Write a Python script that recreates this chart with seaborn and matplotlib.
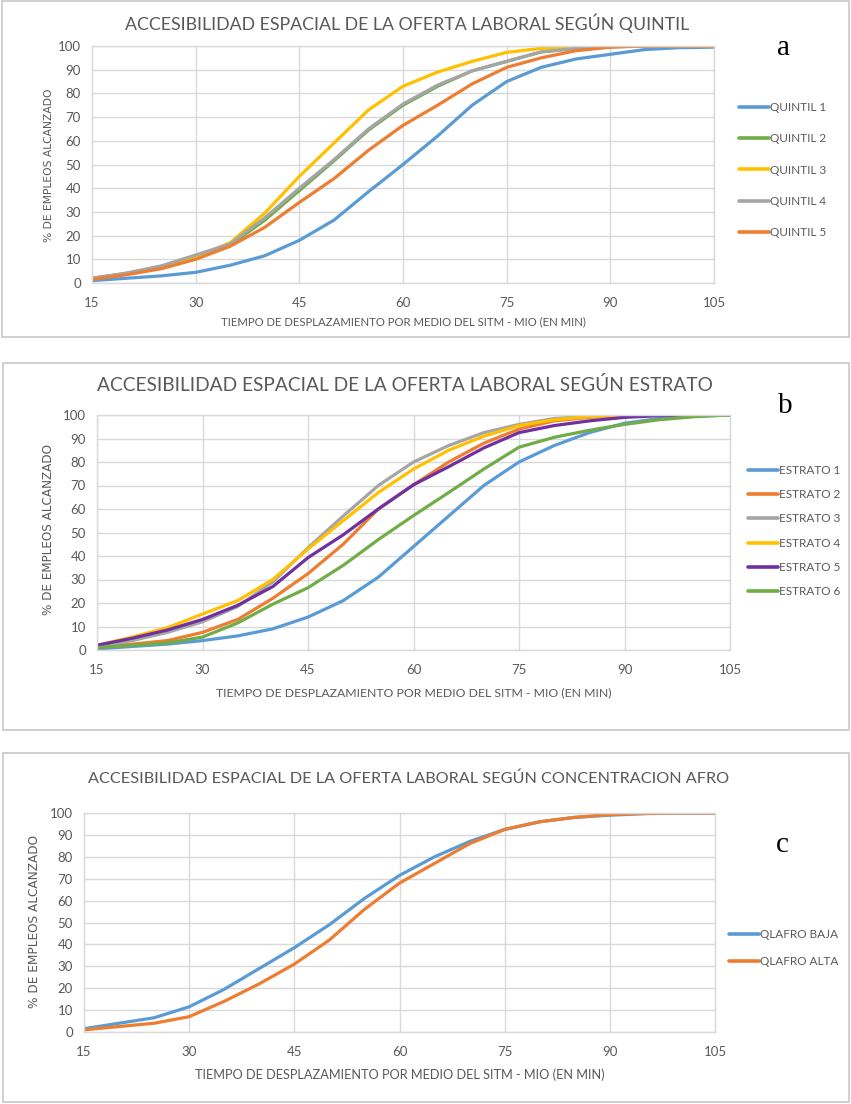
import numpy as np
import pandas as pd
import matplotlib
matplotlib.use("Agg")
import matplotlib.pyplot as plt
from matplotlib.patches import Rectangle
import seaborn as sns

# ---------------- data ----------------
minutes = [15, 20, 25, 30, 35, 40, 45, 50, 55, 60, 65, 70, 75, 80, 85, 90, 95, 100, 105]

quintil_labels = ["QUINTIL 1", "QUINTIL 2", "QUINTIL 3", "QUINTIL 4", "QUINTIL 5"]
quintil_1 = [1, 2, 3, 4.5, 7.5, 11.5, 18, 26.5, 38.5, 50, 62, 75, 85, 91, 94.5, 96.5, 98.5, 99.3, 99.5]
quintil_2 = [2, 4, 7, 11.5, 16, 26.5, 39, 51.5, 64.5, 75, 83, 89.5, 93.5, 97.5, 99, 99.7, 100, 100, 100]
quintil_3 = [2, 4, 6.5, 11, 17, 29.5, 45, 59, 73, 83, 89, 93.5, 97.3, 99, 99.5, 100, 100, 100, 100]
quintil_4 = [2, 4.2, 7.2, 11.8, 16.5, 27.5, 40, 52, 65, 75.5, 83.5, 89.5, 93.5, 97.5, 99, 99.7, 100, 100, 100]
quintil_5 = [1.5, 3.5, 6, 10, 15.5, 23.5, 34, 44, 56, 66.5, 75, 84, 91, 95, 98, 99.5, 100, 100, 100]

estrato_labels = ["ESTRATO 1", "ESTRATO 2", "ESTRATO 3", "ESTRATO 4", "ESTRATO 5", "ESTRATO 6"]
estrato_1 = [0.5, 1.5, 2.5, 4, 6, 9, 14, 21, 31, 44, 57, 70, 80, 87, 92.5, 96.5, 98.5, 99.5, 100]
estrato_2 = [1, 2.5, 4, 7.5, 13, 22, 32.5, 45, 60, 70.3, 80, 88, 94, 97.5, 99, 99.7, 100, 100, 100]
estrato_3 = [1.5, 4, 7.5, 12, 18.5, 29, 43.5, 57, 70, 80, 87, 92.5, 96, 98.5, 99.5, 100, 100, 100, 100]
estrato_4 = [2, 5.5, 9.5, 15.3, 21, 30, 43, 55, 67, 77, 85, 91, 95.5, 98, 99.3, 100, 100, 100, 100]
estrato_5 = [2, 5, 8.5, 13, 19, 27, 39.3, 49, 60, 70.3, 78, 86, 92.5, 95.5, 97.5, 99, 99.7, 100, 100]
estrato_6 = [1, 2, 3, 5.5, 11.5, 19.5, 26.5, 36, 47, 57.2, 67, 77, 86.3, 90.5, 93.5, 96, 98, 99.3, 100]

afro_labels = ["QLAFRO BAJA", "QLAFRO ALTA"]
afro_baja = [1.5, 4, 6.5, 11.5, 19.5, 29, 38.5, 49, 61, 71.5, 80, 87, 92.5, 96, 98, 99, 99.7, 100, 100]
afro_alta = [1, 2.5, 4, 7, 14, 22, 31, 42, 56, 68, 77, 86, 92.5, 96, 98, 99.3, 99.8, 100, 100]

titles = [
    "ACCESIBILIDAD ESPACIAL DE LA OFERTA LABORAL SEGÚN QUINTIL",
    "ACCESIBILIDAD ESPACIAL DE LA OFERTA LABORAL SEGÚN ESTRATO",
    "ACCESIBILIDAD ESPACIAL DE LA OFERTA LABORAL SEGÚN CONCENTRACION AFRO",
]
xlabel = "TIEMPO DE DESPLAZAMIENTO POR MEDIO DEL SITM - MIO (EN MIN)"
ylabel = "% DE EMPLEOS ALCANZADO"
xticks = [15, 30, 45, 60, 75, 90, 105]
yticks = [0, 10, 20, 30, 40, 50, 60, 70, 80, 90, 100]
panel_letters = ["a", "b", "c"]

BLUE, ORANGE, GRAY, YELLOW, GREEN, PURPLE = "#5B9BD5", "#ED7D31", "#A5A5A5", "#FFC000", "#70AD47", "#7030A0"


def long_df(labels, series):
    rows = []
    for lab, vals in zip(labels, series):
        for m, v in zip(minutes, vals):
            rows.append({"min": m, "pct": v, "serie": lab})
    return pd.DataFrame(rows)


df_a = long_df(quintil_labels, [quintil_1, quintil_2, quintil_3, quintil_4, quintil_5])
df_b = long_df(estrato_labels, [estrato_1, estrato_2, estrato_3, estrato_4, estrato_5, estrato_6])
df_c = long_df(afro_labels, [afro_baja, afro_alta])

pal_a = dict(zip(quintil_labels, [BLUE, GREEN, YELLOW, GRAY, ORANGE]))
pal_b = dict(zip(estrato_labels, [BLUE, ORANGE, GRAY, YELLOW, PURPLE, GREEN]))
pal_c = dict(zip(afro_labels, [BLUE, ORANGE]))

# ---------------- figure ----------------
sns.set_style("white")
plt.rcParams["font.family"] = ["Lato", "DejaVu Sans"]
TXT = "#595959"

W, H = 851, 1104
fig = plt.figure(figsize=(W / 100, H / 100), dpi=100)
renderer = fig.canvas.get_renderer()


def fx(px):
    return px / W


def fy(py):
    return 1 - py / H


def fit_text(t, target, vertical=False):
    """Scale a text's font size so that its extent matches a target length in px."""
    for _ in range(3):
        bb = t.get_window_extent(renderer)
        cur = bb.height if vertical else bb.width
        t.set_fontsize(t.get_fontsize() * target / cur)


# panel frames (pixel coordinates: x0, y0, x1, y1)
frames = [(2, 1, 849, 337), (3, 363, 849, 730), (3, 753, 849, 1102)]
for x0, y0, x1, y1 in frames:
    fig.patches.append(Rectangle((fx(x0), fy(y1)), fx(x1 - x0), (y1 - y0) / H,
                                 transform=fig.transFigure, fill=False,
                                 edgecolor="#C8C8C8", linewidth=1.2))

# layout (pixel coords)
ax_px = [(92, 46, 714, 283), (97, 415, 730, 650), (84, 813, 715, 1032)]
title_xy = [(407, 23), (405, 385), (409, 779)]
title_w = [565, 615, 642]
xlab_xy = [(403, 322), (414, 693), (400, 1075)]
xlab_w = [366, 396, 409]
ylab_xy = [(49, 165), (49, 529), (35, 922)]
ylab_h = [156, 172, 175]
legend_pos = [(739, 170), (748, 531), (729, 948)]
legend_spacing = [1.72, 1.13, 1.3]
letter_pos = [(784, 48), (785, 406), (782, 845)]
datasets = [(df_a, pal_a), (df_b, pal_b), (df_c, pal_c)]

for i, ((l, t, r, b), (df, pal)) in enumerate(zip(ax_px, datasets)):
    ax = fig.add_axes([fx(l), fy(b), fx(r - l), (b - t) / H])
    sns.lineplot(data=df, x="min", y="pct", hue="serie", palette=pal, ax=ax,
                 linewidth=2.3, sort=True, legend=True)
    for ln in ax.lines:
        ln.set_solid_joinstyle("round")
        ln.set_solid_capstyle("round")
    ax.set_xlim(15, 105)
    ax.set_ylim(0, 100)
    ax.set_xticks(xticks)
    ax.set_yticks(yticks)
    ax.grid(True, color="#D9D9D9", linewidth=1.0)
    ax.set_axisbelow(True)
    for s in ax.spines.values():
        s.set_color("#D9D9D9")
        s.set_linewidth(1.0)
    ax.tick_params(axis="y", length=0, colors=TXT, labelsize=9.5, pad=8)
    ax.tick_params(axis="x", length=0, colors=TXT, labelsize=9.5, pad=10)
    ax.set_xlabel("")
    ax.set_ylabel("")

    tt = fig.text(fx(title_xy[i][0]), fy(title_xy[i][1]), titles[i], ha="center", va="center",
                  color=TXT, fontsize=12)
    fit_text(tt, title_w[i])
    xt = fig.text(fx(xlab_xy[i][0]), fy(xlab_xy[i][1]), xlabel, ha="center", va="center",
                  color=TXT, fontsize=9)
    fit_text(xt, xlab_w[i])
    yt = fig.text(fx(ylab_xy[i][0]), fy(ylab_xy[i][1]), ylabel, ha="center", va="center",
                  rotation=90, color=TXT, fontsize=8, family=["DejaVu Sans"])
    fit_text(yt, ylab_h[i], vertical=True)

    fig.text(fx(letter_pos[i][0]), fy(letter_pos[i][1]), panel_letters[i],
             ha="center", va="center", fontsize=21, family=["Liberation Serif"], color="black")
    handles, labels = ax.get_legend_handles_labels()
    for h in handles:
        h.set_linewidth(2.6)
    ax.legend(handles, labels, loc="center left",
              bbox_to_anchor=(fx(legend_pos[i][0]), fy(legend_pos[i][1])),
              bbox_transform=fig.transFigure, frameon=False, fontsize=8.5,
              handlelength=2.5, handletextpad=0.15, labelspacing=legend_spacing[i],
              labelcolor=TXT, borderpad=0, borderaxespad=0)

fig.savefig("out.png", dpi=100)
